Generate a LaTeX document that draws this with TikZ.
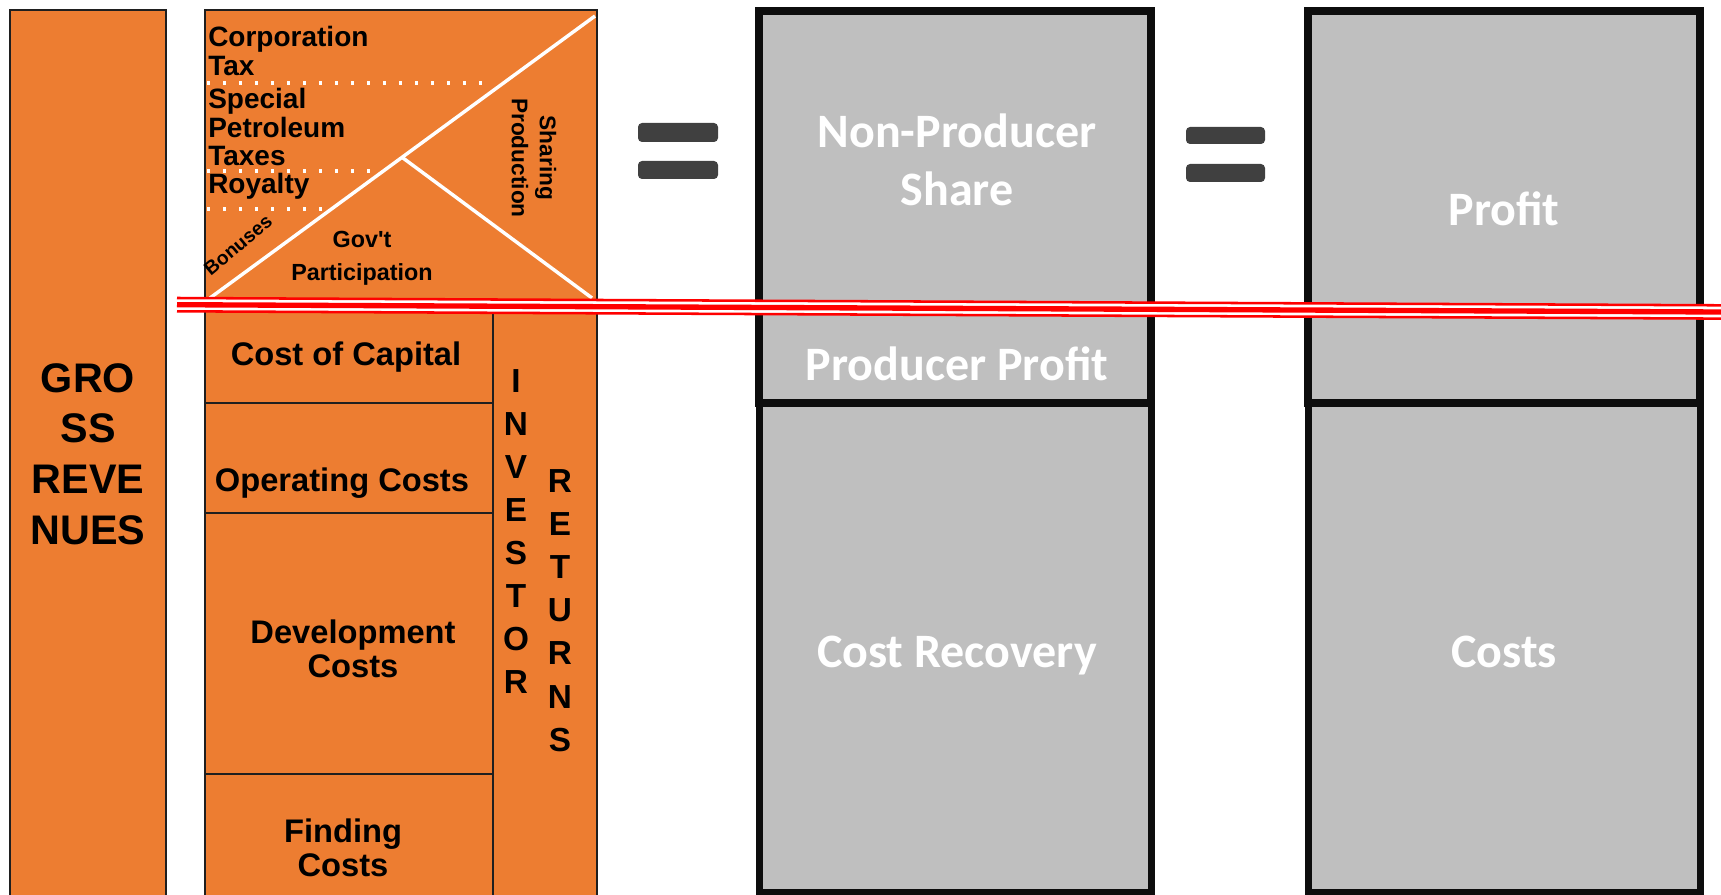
\documentclass[tikz,border=0pt]{standalone}
\usepackage{fontspec}
\setmainfont{Liberation Sans}
\newfontfamily\calfont{Carlito}
\definecolor{Orange}{HTML}{ED7D31}
\definecolor{BarGray}{HTML}{BFBFBF}
\definecolor{EqGray}{HTML}{404040}
\definecolor{EdgeDark}{HTML}{1F1F1F}
\definecolor{BoxEdge}{HTML}{0D0D0D}
\usetikzlibrary{positioning}

\begin{document}
\begin{tikzpicture}[
  x=0.75pt, y=-0.75pt,
  obox/.style={draw=EdgeDark, fill=Orange, line width=1.5pt},
  cell/.style={draw=EdgeDark, line width=1.5pt},
  gbox/.style={draw=BoxEdge, fill=BarGray, line width=6pt},
  wline/.style={white, line width=2.6pt},
  dots/.style={white, line width=2.6pt, dash pattern=on 2.6pt off 9.4pt},
  eqbar/.style={fill=EqGray, rounded corners=3pt},
  redcut/.style={red, line width=1.9pt},
  big/.style={font=\bfseries\fontsize{31}{38}\selectfont, align=center, inner sep=0pt},
  cost/.style={font=\bfseries\fontsize{24.5}{25.5}\selectfont, align=center, inner sep=0pt},
  tax/.style={font=\bfseries\fontsize{21}{21.5}\selectfont, align=left, inner sep=0pt},
  small/.style={font=\bfseries\fontsize{17.5}{24.75}\selectfont, align=center, inner sep=0pt},
  vlet/.style={font=\bfseries\fontsize{25}{25}\selectfont, inner sep=0pt, anchor=base},
  gtxt/.style={font=\calfont\bfseries\fontsize{36}{43.5}\selectfont, text=white, align=center, inner sep=0pt},
]
  \useasboundingbox (0,0) rectangle (1721,895);
  \clip (0,0) rectangle (1721,895);

  % gross revenues column
  \draw[obox] (9.5,10) rectangle (166,910);
  \node[big] (gross) at (88,454) {GRO\\SS\\REVE\\NUES};

  % government take / investor returns column
  \draw[obox] (205,10) rectangle (597,910);
  \draw[cell] (205,304) -- (597,304);
  \draw[cell] (493,304) -- (493,910);
  \draw[cell] (205,403) -- (493,403);
  \draw[cell] (205,513) -- (493,513);
  \draw[cell] (205,774) -- (493,774);

  \draw[wline] (210,298) -- (595,16);
  \draw[wline] (403,158) -- (592,298);
  \draw[dots] (207,83) -- (482,83);
  \draw[dots] (207,171) -- (370,171);
  \draw[dots] (207,209) -- (322,209);

  \node[tax, anchor=north west] (corp) at (208,26) {Corporation\\Tax};
  \node[tax, anchor=north west] (spt) at (208,88) {Special\\Petroleum\\Taxes};
  \node[tax, anchor=base west] (roy) at (208,194) {Royalty};
  \node[font=\bfseries\fontsize{14.5}{14.5}\selectfont, inner sep=0pt, rotate=40] (bon) at (238,245) {Bonuses};
  \node[small, anchor=north] (gov) at (362,231) {Gov\textquotesingle t\\Participation};
  \node[font=\bfseries\fontsize{17}{21}\selectfont, align=center, inner sep=0pt, rotate=-90] (psc) at (534,158) {Sharing\\Production};

  \node[cost, anchor=base] (capital) at (346,365) {Cost of Capital};
  \node[cost, anchor=base] (opex) at (342,491) {Operating Costs};
  \node[cost, anchor=north] (dev) at (353,620) {Development\\Costs};
  \node[cost, anchor=north] (find) at (343,819) {Finding\\Costs};

  \foreach \l [count=\i from 0] in {I,N,V,E,S,T,O,R}
    \node[vlet] (inv\i) at (516,{392+43.1*\i}) {\l};
  \foreach \l [count=\i from 0] in {R,E,T,U,R,N,S}
    \node[vlet] (ret\i) at (560,{492+43.2*\i}) {\l};

  % equals signs
  \fill[eqbar] (638,123) rectangle (718,142);
  \fill[eqbar] (638,161) rectangle (718,179);
  \fill[eqbar] (1186,127) rectangle (1265,144);
  \fill[eqbar] (1186,164) rectangle (1265,182);

  % producer view
  \draw[gbox, line width=5.25pt] (759,403) rectangle (1151,892);
  \draw[gbox] (759,11) rectangle (1151,403);
  \draw[BoxEdge, line width=2.5pt] (759,305) -- (1151,305);
  \node[gtxt, anchor=north] (nonprod) at (957,114) {Non-Producer\\Share};
  \node[gtxt, anchor=base] (prodprofit) at (957,380) {Producer Profit};
  \node[gtxt, anchor=base] (recovery) at (957,667) {Cost Recovery};

  % generic view
  \draw[gbox, line width=5.25pt] (1308,403) rectangle (1700,892);
  \draw[gbox] (1308,11) rectangle (1700,403);
  \node[gtxt, anchor=base] (profit) at (1504,225) {Profit};
  \node[gtxt, anchor=base] (costs) at (1504,667) {Costs};

  % break mark
  \fill[white] (177,298) -- (1721,305.3) -- (1721,318.6) -- (177,311.3) -- cycle;
  \draw[redcut] (177,298) -- (1721,305.3);
  \draw[redcut, line width=4pt] (177,304.7) -- (1721,312);
  \draw[redcut] (177,311.3) -- (1721,318.6);
\end{tikzpicture}
\end{document}
